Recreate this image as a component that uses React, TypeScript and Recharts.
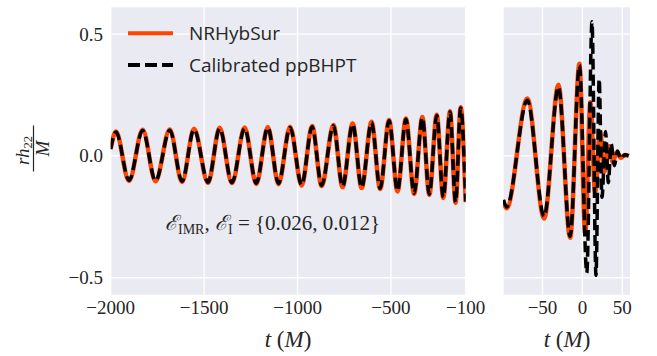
import React from 'react';
import { LineChart, Line, XAxis, YAxis, CartesianGrid } from 'recharts';

// ---- tick values ----
const leftTicks = [-2000, -1500, -1000, -500, -100];
const rightTicks = [-50, 0, 50];
const yTicks = [-0.5, 0, 0.5];
const yDomain: [number, number] = [-0.572, 0.613];

// ---- inspiral panel (t from -2000 to -100) ----
const leftTimes = [-2000, -1972, -1902, -1829, -1760, -1684, -1618, -1554, -1479, -1417, -1351, -1283, -1221, -1159, -1102, -1040, -978, -922, -871, -808, -759, -705, -657, -604, -558, -510, -465, -420, -376, -332, -295, -255, -220, -184, -154, -127, -100];
const leftNR = [0.03, 0.1, -0.103, 0.107, -0.104, 0.108, -0.107, 0.111, -0.111, 0.115, -0.112, 0.116, -0.115, 0.119, -0.116, 0.12, -0.122, 0.123, -0.124, 0.127, -0.128, 0.133, -0.132, 0.14, -0.136, 0.147, -0.146, 0.153, -0.156, 0.16, -0.16, 0.169, -0.173, 0.183, -0.193, 0.2, -0.19];
const leftBH = [0.028, 0.098, -0.1, 0.104, -0.102, 0.105, -0.104, 0.108, -0.108, 0.112, -0.109, 0.113, -0.112, 0.116, -0.113, 0.117, -0.119, 0.12, -0.121, 0.124, -0.125, 0.13, -0.129, 0.137, -0.133, 0.144, -0.143, 0.15, -0.153, 0.157, -0.157, 0.166, -0.17, 0.18, -0.19, 0.197, -0.187];

// ---- merger-ringdown panel ----
const rightNRTimes = [-99, -95, -69, -48, -30, -15.4, -3.7, 3.5, 10, 16, 22, 27.5, 33, 38, 43, 48, 53, 58];
const rightNR = [-0.185, -0.215, 0.235, -0.257, 0.292, -0.336, 0.378, -0.32, 0.22, -0.15, 0.1, -0.065, 0.04, -0.025, 0.015, -0.008, 0.004, 0.0];
const rightBHTimes = [-99, -95, -69, -48, -30, -15.4, -3.7, 5.5, 12, 17, 21, 24.5, 29, 32.5, 36, 40, 44, 48, 53, 58];
const rightBH = [-0.18, -0.21, 0.228, -0.248, 0.283, -0.33, 0.372, -0.48, 0.55, -0.49, 0.315, -0.17, 0.1, -0.11, 0.05, -0.04, 0.02, -0.012, 0.005, 0.0];

const seriesNames = ['NRHybSur', 'Calibrated ppBHPT'];
const errorText = '= {0.026, 0.012}';

const toRows = (ts: number[], vs: number[]) => ts.map((t, i) => ({ t, v: vs[i] }));
const fmtX = (v: number) => (v < 0 ? '\u2212' + Math.abs(v) : String(v));
const fmtY = (v: number) => (v < 0 ? '\u2212' + Math.abs(v).toFixed(1) : v.toFixed(1));

const ORANGE = '#FF4500';
const TXT = '#262626';
const SERIF = "'Liberation Serif', 'DejaVu Serif', serif";
const SANS = "'Open Sans', Lato, sans-serif";

const leftNRRows = toRows(leftTimes, leftNR);
const leftBHRows = toRows(leftTimes, leftBH);
const rightNRRows = toRows(rightNRTimes, rightNR);
const rightBHRows = toRows(rightBHTimes, rightBH);

const XTick = (props: any) => {
  const { x, y, payload } = props;
  return (
    <text x={x} y={y + 19} textAnchor="middle" style={{ fontFamily: SERIF, fontSize: 19, fill: TXT }}>
      {fmtX(payload.value)}
    </text>
  );
};

const YTick = (props: any) => {
  const { x, y, payload } = props;
  return (
    <text x={x} y={y + 6.5} textAnchor="end" style={{ fontFamily: SERIF, fontSize: 19, fill: TXT }}>
      {fmtY(payload.value)}
    </text>
  );
};

export default function App() {
  return (
    <div style={{ position: 'absolute', left: 0, top: 0, width: 657, height: 356, background: '#fff' }}>
      <div style={{ position: 'absolute', left: 0, top: 0 }}>
        <LineChart width={500} height={356} margin={{ top: 6.5, right: 34.3, bottom: 0, left: 0 }}>
          <CartesianGrid stroke="#ffffff" strokeWidth={1.3} fill="#EAEAF2" fillOpacity={1} />
          <XAxis dataKey="t" type="number" domain={[-2000, -100]} ticks={leftTicks} allowDataOverflow
            axisLine={false} tickLine={false} tickSize={0} tickMargin={0} height={60.7}
            tick={<XTick />} interval={0} />
          <YAxis type="number" domain={yDomain} ticks={yTicks} allowDataOverflow
            axisLine={false} tickLine={false} tickSize={4} tickMargin={3.7} width={110.7} tick={<YTick />} interval={0} />
          <Line data={leftNRRows} dataKey="v" type="monotone" stroke={ORANGE} strokeWidth={4.5} dot={false} isAnimationActive={false} />
          <Line data={leftBHRows} dataKey="v" type="monotone" stroke="#000" strokeWidth={3.5} strokeDasharray="11 5" dot={false} isAnimationActive={false} />
        </LineChart>
      </div>
      <div style={{ position: 'absolute', left: 490, top: 0 }}>
        <LineChart width={160} height={356} margin={{ top: 6.5, right: 19.3, bottom: 0, left: 13 }}>
          <CartesianGrid stroke="#ffffff" strokeWidth={1.3} fill="#EAEAF2" fillOpacity={1} />
          <XAxis dataKey="t" type="number" domain={[-99.5, 60.5]} ticks={rightTicks} allowDataOverflow
            axisLine={false} tickLine={false} tickSize={0} tickMargin={0} height={60.7}
            tick={<XTick />} interval={0} />
          <YAxis type="number" domain={yDomain} ticks={yTicks} allowDataOverflow hide />
          <Line data={rightNRRows} dataKey="v" type="monotone" stroke={ORANGE} strokeWidth={4.5} dot={false} isAnimationActive={false} />
          <Line data={rightBHRows} dataKey="v" type="monotone" stroke="#000" strokeWidth={3.5} strokeDasharray="11 5" dot={false} isAnimationActive={false} />
        </LineChart>
      </div>
      <svg width={657} height={356} style={{ position: 'absolute', left: 0, top: 0, pointerEvents: 'none' }}>
        {/* legend */}
        <line x1={128} x2={173} y1={33.3} y2={33.3} stroke={ORANGE} strokeWidth={4} />
        <text x={189} y={33.3} dominantBaseline="central" style={{ fontFamily: SANS, fontSize: 19, fill: TXT }}>{seriesNames[0]}</text>
        <line x1={128} x2={173} y1={65} y2={65} stroke="#000" strokeWidth={4} strokeDasharray="12 5" />
        <text x={189} y={65} dominantBaseline="central" style={{ fontFamily: SANS, fontSize: 19, fill: TXT }}>{seriesNames[1]}</text>
        {/* annotation */}
        <text x={165} y={230} style={{ fontFamily: SERIF, fontSize: 21, fill: TXT }}>
          <tspan fontStyle="italic">{'\u2130'}</tspan>
          <tspan fontSize={14} dy={4}>IMR</tspan>
          <tspan dy={-4}>{', '}</tspan>
          <tspan fontStyle="italic">{'\u2130'}</tspan>
          <tspan fontSize={14} dy={4}>I</tspan>
          <tspan dy={-4}>{' ' + errorText}</tspan>
        </text>
        {/* x labels */}
        <text x={288} y={347} textAnchor="middle" style={{ fontFamily: SERIF, fontSize: 23, fill: TXT }}>
          <tspan fontStyle="italic">t</tspan>
          <tspan>{' ('}</tspan>
          <tspan fontStyle="italic">M</tspan>
          <tspan>)</tspan>
        </text>
        <text x={567} y={347} textAnchor="middle" style={{ fontFamily: SERIF, fontSize: 23, fill: TXT }}>
          <tspan fontStyle="italic">t</tspan>
          <tspan>{' ('}</tspan>
          <tspan fontStyle="italic">M</tspan>
          <tspan>)</tspan>
        </text>
        {/* y label */}
        <g transform="translate(33.5,148.5) rotate(-90)">
          <text x={-2} y={-5} textAnchor="middle" style={{ fontFamily: SERIF, fontSize: 19, fill: TXT }}>
            <tspan fontStyle="italic">rh</tspan>
            <tspan fontSize={12.5} dy={3}>22</tspan>
          </text>
          <line x1={-23} x2={23} y1={0} y2={0} stroke={TXT} strokeWidth={1.2} />
          <text x={0} y={15.5} textAnchor="middle" fontStyle="italic" style={{ fontFamily: SERIF, fontSize: 19, fill: TXT }}>M</text>
        </g>
      </svg>
    </div>
  );
}
